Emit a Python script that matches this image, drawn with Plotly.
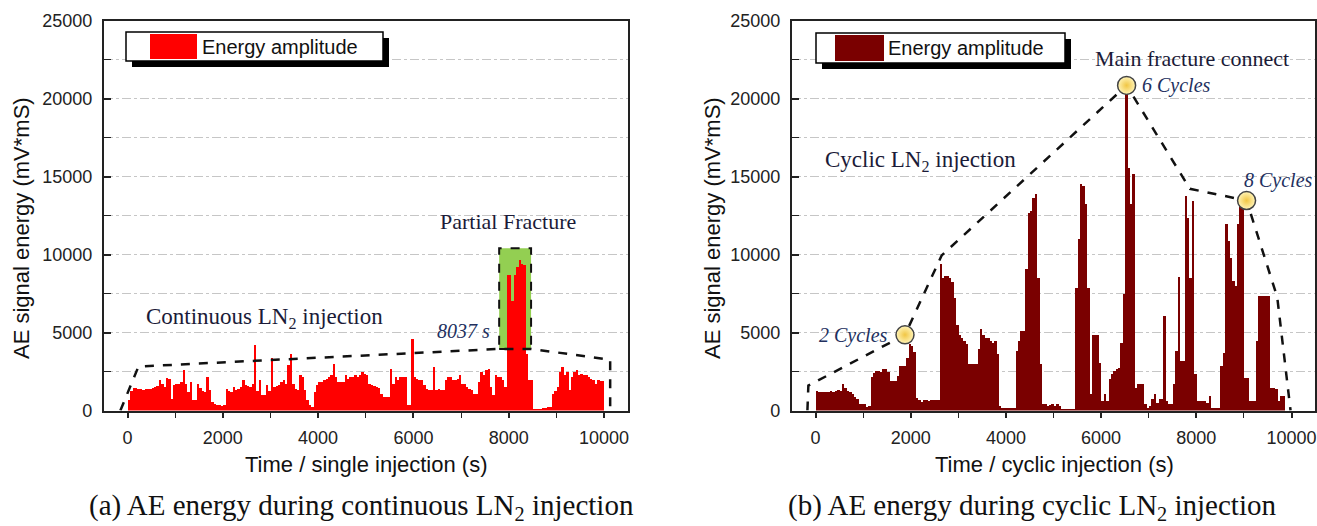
import plotly.graph_objects as go

W, H = 1317, 526

# ---------------- data ----------------
BIN = 50  # seconds per bar
time_bins = list(range(0, 10000, BIN))  # bin start times (s)

# (a) continuous LN2 injection, AE energy per 50 s bin (mV*mS)
energy_single = [
    700, 1300, 1450, 1450, 1430, 1420, 1350, 1400, 1430, 1420,      # 0-450
    1450, 1540, 1600, 1970, 1750, 1550, 2140, 2070, 790, 1650,      # 500-950
    1700, 1750, 1860, 2600, 1750, 1220, 1860, 680, 700, 1700,       # 1000-1450
    1500, 1300, 1200, 2180, 1320, 580, 470, 400, 360, 350,          # 1500-1950
    360, 1430, 1300, 1220, 1540, 1320, 1400, 1540, 1970, 1650,      # 2000-2450
    1600, 1550, 1750, 4210, 1300, 1970, 1000, 1000, 1650, 1300,     # 2500-2950
    3420, 1540, 1600, 1650, 1860, 1970, 1750, 2930, 3680, 1750,     # 3000-3450
    1400, 1320, 2290, 2180, 1320, 680, 360, 260, 1220, 1650,        # 3500-3950
    1860, 1860, 1970, 2070, 2180, 2290, 3030, 2180, 1860, 1860,     # 4000-4450
    1860, 2290, 2070, 2180, 2180, 2290, 2180, 2290, 2500, 2400,     # 4500-4950
    2290, 1750, 1650, 1600, 1540, 1450, 1110, 900, 900, 900,        # 5000-5450
    2710, 1750, 2180, 1970, 2180, 2180, 2180, 360, 360, 4640,       # 5500-5950
    2180, 2070, 1970, 1970, 1650, 1430, 1320, 1320, 2820, 1320,     # 6000-6450
    1430, 1320, 1320, 1970, 2180, 2180, 1970, 1970, 2070, 2290,     # 6500-6950
    1750, 1750, 1540, 1430, 1320, 1110, 1110, 1860, 2500, 2290,     # 7000-7450
    2610, 2710, 1540, 1000, 2290, 2180, 2180, 1970, 1540, 8700,     # 7500-7950
    8700, 7030, 8700, 9230, 9660, 9450, 9340, 3680, 1970, 1970,     # 8000-8450
    80, 150, 150, 150, 200, 200, 260, 260, 1110, 1300,              # 8500-8950
    1540, 2500, 2820, 2290, 2500, 1320, 2180, 2500, 2610, 2290,     # 9000-9450
    2400, 2290, 2290, 2180, 2070, 1970, 1750, 1970, 1900, 1900,     # 9500-9950
]

# (b) cyclic LN2 injection
energy_cyclic = [
    1300, 1250, 1250, 1200, 1250, 1250, 1300, 1250, 1300, 1350,     # 0-450
    1300, 1700, 1500, 1300, 1250, 1100, 900, 750, 430, 430,         # 500-950
    430, 250, 300, 2200, 2450, 2560, 2560, 2500, 2670, 2670,        # 1000-1450
    2500, 1920, 1900, 1900, 2240, 2880, 2880, 2900, 3400, 4270,     # 1500-1950
    4170, 3800, 850, 680, 600, 680, 680, 650, 700, 700,             # 2000-2450
    680, 700, 9400, 8550, 8650, 8650, 8500, 8300, 7270, 5500,       # 2500-2950
    4900, 4700, 4500, 4270, 3000, 3000, 3000, 3000, 3950, 5240,     # 3000-3450
    4900, 4700, 4700, 4490, 4380, 4500, 3630, 320, 210, 210,        # 3500-3950
    210, 200, 210, 200, 3850, 4490, 5130, 5130, 9080, 12700,        # 4000-4450
    12800, 13680, 13890, 8550, 3000, 430, 430, 350, 400, 430,       # 4500-4950
    300, 430, 300, 100, 100, 100, 100, 100, 120, 7900,              # 5000-5450
    11000, 14530, 14400, 13250, 7900, 1070, 4900, 4900, 4900, 3100, # 5500-5950
    640, 1070, 640, 2030, 2350, 2560, 2700, 2780, 4380, 7480,       # 6000-6450
    20300, 15600, 13250, 15170, 1500, 1710, 1710, 1710, 430, 210,   # 6500-6950
    300, 750, 1070, 530, 750, 750, 6090, 640, 430, 430,             # 7000-7450
    1710, 3850, 8590, 3200, 3200, 13780, 12400, 8500, 13460, 2350,  # 7500-7950
    640, 640, 640, 640, 500, 960, 200, 200, 200, 200,               # 8000-8450
    2880, 3700, 11970, 10900, 9830, 8330, 8000, 12000, 13250, 13250,# 8500-8950
    2140, 2140, 640, 640, 640, 4490, 7370, 7370, 7370, 7370,        # 9000-9450
    7370, 1500, 1500, 1400, 640, 960, 960, 0, 0, 0,                 # 9500-9950
]

# dashed envelope lines
env_single_t = [-150, 230, 7800, 8470, 10130, 10130]
env_single_e = [0, 2820, 3950, 3950, 3250, 0]
env_cyclic_t = [-170, -150, 1880, 2650, 6536, 7866, 9056, 9700, 9980]
env_cyclic_e = [0, 1600, 4850, 9940, 20840, 14210, 13460, 7270, 0]

# partial fracture window (s, energy)
fracture_t = [7800, 8470]
fracture_e = [3950, 10400]

# cycle markers
cycle_t = [1880, 6536, 9056]
cycle_e = [4850, 20840, 13460]
cycle_labels = ["2 Cycles", "6 Cycles", "8 Cycles"]

x_ticks = [0, 2000, 4000, 6000, 8000, 10000]
x_tick_text = ["0", "2000", "4000", "6000", "8000", "10000"]
y_ticks = [0, 5000, 10000, 15000, 20000, 25000]
y_tick_text = ["0", "5000", "10000", "15000", "20000", "25000"]

# ---------------- figure ----------------
SANS = "Liberation Sans, Arial, sans-serif"
SERIF = "Liberation Serif, Times New Roman, serif"
TXT = "#1b1b38"
AX = "#222222"

def px(x):
    return x / W

def py(y):
    return 1 - y / H

fig = go.Figure()
bar_x = [t + BIN / 2 for t in time_bins]

fig.add_trace(go.Bar(x=bar_x, y=energy_single, width=BIN, xaxis="x", yaxis="y",
                     marker=dict(color="#ff0000", line=dict(width=0)), showlegend=False))
fig.add_trace(go.Bar(x=bar_x, y=energy_cyclic, width=BIN, xaxis="x2", yaxis="y2",
                     marker=dict(color="#7a0000", line=dict(width=0)), showlegend=False))

fig.add_trace(go.Scatter(x=env_single_t, y=env_single_e, mode="lines", xaxis="x", yaxis="y",
                         line=dict(color="#111", width=2.5, dash="dash"), showlegend=False))
fig.add_trace(go.Scatter(x=env_cyclic_t, y=env_cyclic_e, mode="lines", xaxis="x2", yaxis="y2",
                         line=dict(color="#111", width=2.5, dash="dash"), showlegend=False))
fig.add_trace(go.Scatter(x=cycle_t, y=cycle_e, mode="markers", xaxis="x2", yaxis="y2",
                         marker=dict(size=18, color="#fff4b8",
                                     gradient=dict(type="radial", color="#f1c644"),
                                     line=dict(color="#444", width=1.5)),
                         showlegend=False))

fig.add_shape(type="rect", xref="x", yref="y", x0=fracture_t[0], x1=fracture_t[1],
              y0=fracture_e[0], y1=fracture_e[1], fillcolor="#93cf52",
              line=dict(color="#111", width=2, dash="dash"), layer="between")

def xaxis(domain, anchor):
    return dict(domain=domain, anchor=anchor, range=[-500, 10500], automargin=False,
                tickmode="array", tickvals=x_ticks, ticktext=x_tick_text,
                ticks="outside", ticklen=6, tickwidth=1.5, tickcolor=AX,
                minor=dict(dtick=1000, tick0=0, ticks="outside", ticklen=6, tickwidth=1.3, tickcolor=AX),
                showline=True, linecolor=AX, linewidth=1.6, mirror=True,
                showgrid=False, zeroline=False,
                tickfont=dict(family=SANS, size=18, color=AX), ticklabelstandoff=4)

def yaxis(domain, anchor):
    return dict(domain=domain, anchor=anchor, range=[0, 25000], automargin=False,
                tickmode="array", tickvals=y_ticks, ticktext=y_tick_text,
                ticks="inside", ticklen=7, tickwidth=1.5, tickcolor=AX,
                showgrid=True, gridcolor="#c6c6c6", gridwidth=1.2, griddash="dash",
                minor=dict(dtick=2500, tick0=0, ticks="inside", ticklen=7, tickwidth=1.3, tickcolor=AX,
                           showgrid=True, gridcolor="#c6c6c6", gridwidth=1.2, griddash="dashdot"),
                showline=True, linecolor=AX, linewidth=1.6, mirror=True, zeroline=False,
                tickfont=dict(family=SANS, size=18, color=AX), ticklabelstandoff=6)

ydom = [py(410.5), py(20.5)]
fig.update_layout(
    width=W, height=H, margin=dict(l=0, r=0, t=0, b=0, autoexpand=False),
    paper_bgcolor="white", plot_bgcolor="white",
    bargap=0, barmode="overlay",
    xaxis=xaxis([px(103.7), px(627.8)], "y"),
    yaxis=yaxis(ydom, "x"),
    xaxis2=xaxis([px(791.7), px(1315.3)], "y2"),
    yaxis2=yaxis(ydom, "x2"),
)

# legends (drawn boxes with shadow)
def legend_box(x0, x1, y0, y1, patch0, patch1, color, text_x):
    fig.add_shape(type="rect", xref="paper", yref="paper", x0=px(x0 + 6), x1=px(x1 + 6),
                  y0=py(y1 + 6), y1=py(y0 + 6), fillcolor="#000", line=dict(width=0))
    fig.add_shape(type="rect", xref="paper", yref="paper", x0=px(x0), x1=px(x1),
                  y0=py(y1), y1=py(y0), fillcolor="white", line=dict(color="#000", width=1.5))
    fig.add_shape(type="rect", xref="paper", yref="paper", x0=px(patch0), x1=px(patch1),
                  y0=py(y1 - 2), y1=py(y0 + 2), fillcolor=color, line=dict(width=0))
    fig.add_annotation(xref="paper", yref="paper", x=px(text_x), y=py((y0 + y1) / 2),
                       xanchor="left", yanchor="middle", showarrow=False,
                       text="Energy amplitude", font=dict(family=SANS, size=20, color="#111"))

legend_box(126, 383, 32, 61, 150, 197, "#ff0000", 200)
legend_box(816, 1065, 33, 63, 835, 884, "#7a0000", 886)

# axis titles
for xc, label in [(366, "Time / single injection (s)"), (1054, "Time / cyclic injection (s)")]:
    fig.add_annotation(xref="paper", yref="paper", x=px(xc), y=py(464), xanchor="center",
                       yanchor="middle", showarrow=False, text=label,
                       font=dict(family=SANS, size=22, color="#111"))
for xc in [22, 713]:
    fig.add_annotation(xref="paper", yref="paper", x=px(xc), y=py(228), xanchor="center",
                       yanchor="middle", showarrow=False, text="AE signal energy (mV*mS)",
                       textangle=-90, font=dict(family=SANS, size=22, color="#111"))

# captions
fig.add_annotation(xref="paper", yref="paper", x=px(361), y=py(507), xanchor="center",
                   yanchor="middle", showarrow=False,
                   text="(a) AE energy during continuous LN<sub>2</sub> injection",
                   font=dict(family=SERIF, size=29, color="#111"))
fig.add_annotation(xref="paper", yref="paper", x=px(1032), y=py(507), xanchor="center",
                   yanchor="middle", showarrow=False,
                   text="(b) AE energy during cyclic LN<sub>2</sub> injection",
                   font=dict(family=SERIF, size=29, color="#111"))

# in-plot annotations (data coords)
fig.add_annotation(xref="x", yref="y", x=346, y=5900, xanchor="left", yanchor="middle",
                   showarrow=False, text="Continuous LN<sub>2</sub> injection",
                   font=dict(family=SERIF, size=23, color=TXT))
fig.add_annotation(xref="x", yref="y", x=7986, y=12100, xanchor="center", yanchor="middle",
                   showarrow=False, text="Partial Fracture",
                   font=dict(family=SERIF, size=22, color=TXT))
fig.add_annotation(xref="x", yref="y", x=7650, y=5100, xanchor="right", yanchor="middle",
                   showarrow=False, text="<i>8037 s</i>",
                   font=dict(family=SERIF, size=20, color="#22305e"))

fig.add_annotation(xref="x2", yref="y2", x=158, y=16000, xanchor="left", yanchor="middle",
                   showarrow=False, text="Cyclic LN<sub>2</sub> injection",
                   font=dict(family=SERIF, size=23, color=TXT))
fig.add_annotation(xref="x2", yref="y2", x=7910, y=22560, xanchor="center", yanchor="middle",
                   showarrow=False, text="Main fracture connect",
                   font=dict(family=SERIF, size=22, color=TXT))
cycle_pos = [(1565, 4810, "right"), (6817, 20830, "left"), (8960, 14740, "left")]
for (tx, ty, anc), lab in zip(cycle_pos, cycle_labels):
    fig.add_annotation(xref="x2", yref="y2", x=tx, y=ty, xanchor=anc, yanchor="middle",
                       showarrow=False, text=f"<i>{lab}</i>",
                       font=dict(family=SERIF, size=20, color="#22305e"))

fig.write_html("out.html")
